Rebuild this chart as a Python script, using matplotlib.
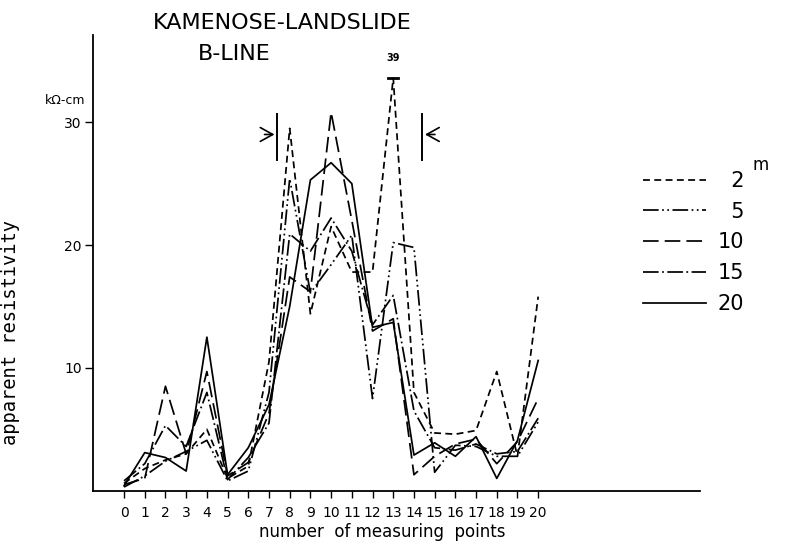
import matplotlib
matplotlib.use("Agg")
import matplotlib.pyplot as plt

# data (apparent resistivity, kOhm-cm)
points = list(range(21))
depth_labels = ["\u20072", "\u20075", "10", "15", "20"]
rho_2m = [0.6, 1.8, 2.5, 3.0, 5.0, 1.0, 2.0, 10.5, 29.5, 14.4, 21.5, 17.8, 17.8, 33.6, 8.0, 4.7, 4.6, 4.9, 9.7, 2.8, 15.8]
rho_5m = [0.3, 1.2, 2.4, 3.2, 4.1, 0.8, 1.6, 8.0, 25.4, 16.1, 18.4, 20.8, 7.5, 20.2, 19.8, 1.5, 3.7, 3.6, 2.8, 2.8, 5.6]
rho_10m = [0.5, 1.0, 8.5, 3.0, 9.7, 1.2, 2.3, 6.3, 17.4, 16.2, 30.8, 22.0, 13.0, 14.0, 1.3, 2.8, 3.8, 4.2, 2.2, 4.0, 7.5]
rho_15m = [0.8, 2.2, 5.3, 3.6, 8.0, 0.9, 2.7, 5.5, 20.9, 19.5, 22.2, 19.5, 13.5, 15.9, 6.5, 3.5, 3.3, 3.8, 3.0, 3.2, 5.9]
rho_20m = [0.4, 3.1, 2.7, 1.6, 12.5, 1.3, 3.5, 7.0, 15.0, 25.3, 26.7, 25.0, 13.3, 13.7, 2.9, 3.9, 2.8, 4.4, 1.0, 4.1, 10.6]

# clipped peak of the 2 m curve and its true value
peak_point = 13
peak_text = "39"
# landslide zone boundaries and the level of the arrows
zone_edges = [7.4, 14.4]
zone_level = 29.0

series = [rho_2m, rho_5m, rho_10m, rho_15m, rho_20m]
dash_styles = [
    (0, (4, 2.5)),
    (0, (9, 2, 1, 2, 1, 2)),
    (0, (9, 3.5)),
    (0, (9, 2, 1, 2)),
    "-",
]

fig = plt.figure(figsize=(7.9, 5.44), dpi=100)
ax = fig.add_axes([0.1177, 0.098, 0.768, 0.8377])

handles = []
for vals, ls in zip(series, dash_styles):
    (ln,) = ax.plot(points, vals, color="black", lw=1.25, linestyle=ls)
    handles.append(ln)

# marker + label on the clipped peak
ax.plot([peak_point - 0.25, peak_point + 0.25], [rho_2m[peak_point]] * 2, color="black", lw=2)
ax.text(peak_point, rho_2m[peak_point] + 1.2, peak_text, ha="center", va="bottom",
        fontsize=7, fontweight="bold")

# zone boundary bars with arrows
for edge, sign in zip(zone_edges, [-1, 1]):
    ax.plot([edge, edge], [zone_level - 2.1, zone_level + 1.7], color="black", lw=1.4)
    ax.annotate("", xy=(edge, zone_level), xytext=(edge + sign * 0.75, zone_level),
                arrowprops=dict(arrowstyle="->,head_length=0.9,head_width=0.5",
                                color="black", lw=1.2))

ax.set_xlim(-1.5, 27.8)
ax.set_ylim(0, 37.1)
ax.set_xticks(points)
ax.set_xticklabels([str(p) for p in points], fontsize=10)
ax.set_yticks([10, 20, 30])
ax.set_yticklabels(["10", "20", "30"], fontsize=10)
ax.tick_params(axis="x", direction="out", length=5, width=1, pad=6)
ax.tick_params(axis="y", direction="out", length=6, width=1, pad=2)
for s in ["top", "right"]:
    ax.spines[s].set_visible(False)
for s in ["left", "bottom"]:
    ax.spines[s].set_linewidth(1.3)

ax.set_xlabel("number  of measuring  points", fontsize=12)
ax.xaxis.set_label_coords(0.477, -0.072)
ax.set_ylabel("apparent resistivity", fontsize=13.5, family="DejaVu Sans Mono")
ax.yaxis.set_label_coords(-0.120, 0.348)

fig.text(0.108, 0.816, "k\u03a9-cm", fontsize=9, ha="right", va="center")
fig.text(0.194, 0.958, "KAMENOSE-LANDSLIDE", fontsize=16, ha="left", va="center")
fig.text(0.250, 0.900, "B-LINE", fontsize=16, ha="left", va="center")

leg = ax.legend(handles, depth_labels, loc="upper left", bbox_to_anchor=(0.814, 0.686),
                bbox_transform=fig.transFigure, frameon=False, fontsize=15,
                handlelength=3.0, handletextpad=0.58, labelspacing=0.52,
                borderaxespad=0, borderpad=0)
fig.text(0.953, 0.697, "m", fontsize=12, ha="left", va="center")

fig.savefig("out.png", dpi=100)
